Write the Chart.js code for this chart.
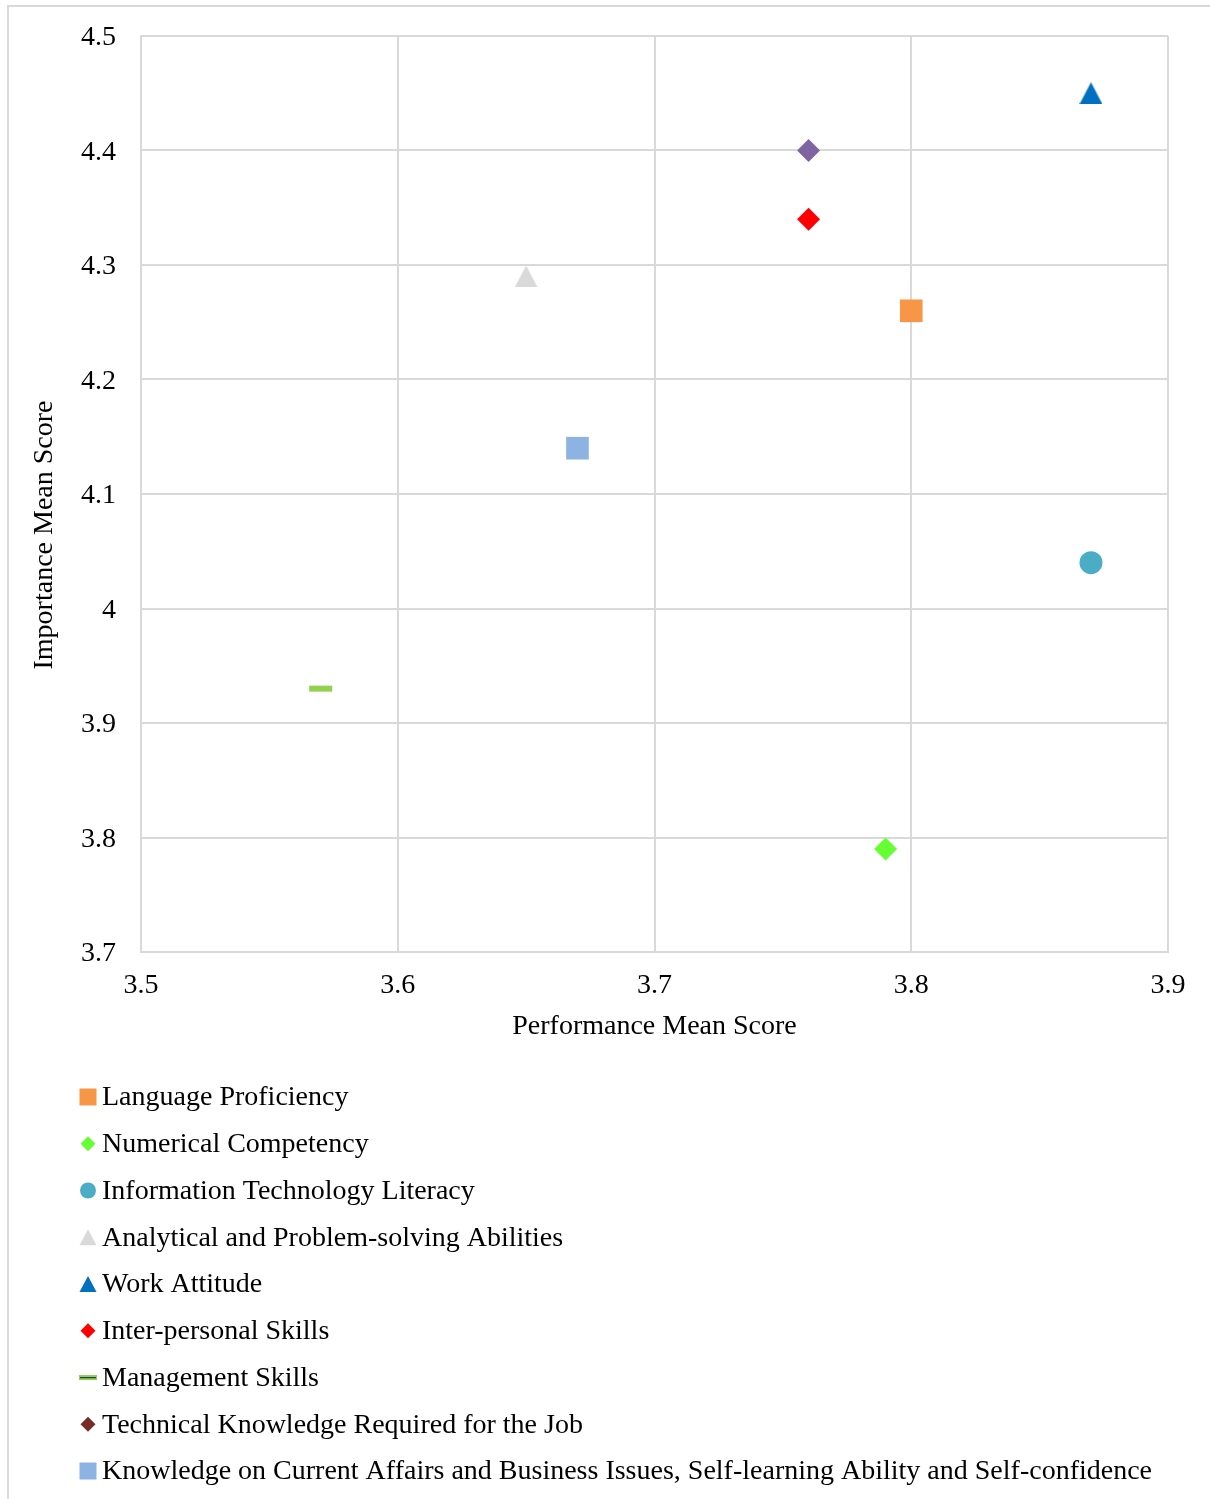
<!DOCTYPE html>
<html>
<head>
<meta charset="utf-8">
<script src="https://cdn.jsdelivr.net/npm/chart.js@4/dist/chart.umd.min.js"></script>
<style>
  html, body { margin: 0; padding: 0; background: #ffffff; }
  #chart { display: block; }
</style>
</head>
<body>
<canvas id="chart" width="1210" height="1499"></canvas>
<script>
// ── Data ─────────────────────────────────────────
const skills = [
    'Language Proficiency',
    'Numerical Competency',
    'Information Technology Literacy',
    'Analytical and Problem-solving Abilities',
    'Work Attitude',
    'Inter-personal Skills',
    'Management Skills',
    'Technical Knowledge Required for the Job',
    'Knowledge on Current Affairs and Business Issues, Self-learning Ability and Self-confidence'
];
const performanceScores = [3.80, 3.79, 3.87, 3.65, 3.87, 3.76, 3.57, 3.76, 3.67];
const importanceScores  = [4.26, 3.79, 4.04, 4.29, 4.45, 4.34, 3.93, 4.40, 4.14];

const xTicks = [3.5, 3.6, 3.7, 3.8, 3.9];
const yTicks = [3.7, 3.8, 3.9, 4.0, 4.1, 4.2, 4.3, 4.4, 4.5];

// marker shape and colour per skill (plot / legend)
const markerShapes = ['square', 'diamond', 'circle', 'triangle', 'triangle', 'diamond', 'dash', 'diamond', 'square'];
const markerColors = ['#F79646', '#66FF33', '#4BACC6', '#D9D9D9', '#0070C0', '#FF0000', '#92D050', '#8064A2', '#8DB3E2'];
const legendColors = ['#F79646', '#66FF33', '#4BACC6', '#D9D9D9', '#0070C0', '#FF0000', '#92D050', '#772C2A', '#8DB3E2'];

const FONT = "'Liberation Serif', 'Times New Roman', serif";
const GRID = '#D9D9D9';

// triangle sprite, centred on its bounding box
function triangleSprite(color, w, h) {
    const c = document.createElement('canvas');
    c.width = w; c.height = h;
    const g = c.getContext('2d');
    g.fillStyle = color;
    g.beginPath();
    g.moveTo(w / 2, 0);
    g.lineTo(w, h);
    g.lineTo(0, h);
    g.closePath();
    g.fill();
    return c;
}

function pointOptions(shape, color) {
    switch (shape) {
        case 'square':   return { pointStyle: 'rect', pointRadius: 16, pointBorderWidth: 0 };
        case 'diamond':  return { pointStyle: 'rectRot', pointRadius: 11.5, pointBorderWidth: 0 };
        case 'circle':   return { pointStyle: 'circle', pointRadius: 11.5, pointBorderWidth: 0 };
        case 'triangle': return { pointStyle: triangleSprite(color, 23, 22), pointRadius: 12, pointBorderWidth: 0 };
        case 'dash':     return { pointStyle: 'line', pointRadius: 11.5, pointBorderWidth: 6 };
    }
}

const datasets = skills.map((name, i) => Object.assign({
    label: name,
    data: [{ x: performanceScores[i], y: importanceScores[i] }],
    pointBackgroundColor: markerColors[i],
    pointBorderColor: markerColors[i]
}, pointOptions(markerShapes[i], markerColors[i])));

// ── Legend marker drawn on the canvas ─────────────
function drawLegendMarker(ctx, shape, color, x, y) {
    ctx.save();
    ctx.fillStyle = color;
    ctx.beginPath();
    if (shape === 'square') {
        ctx.rect(x - 8.5, y - 8.5, 17, 17);
        ctx.fill();
    } else if (shape === 'diamond') {
        ctx.moveTo(x, y - 7.5); ctx.lineTo(x + 7.5, y); ctx.lineTo(x, y + 7.5); ctx.lineTo(x - 7.5, y);
        ctx.closePath();
        ctx.fill();
    } else if (shape === 'circle') {
        ctx.arc(x, y, 8, 0, Math.PI * 2);
        ctx.fill();
    } else if (shape === 'triangle') {
        ctx.moveTo(x, y - 8); ctx.lineTo(x + 8.5, y + 8); ctx.lineTo(x - 8.5, y + 8);
        ctx.closePath();
        ctx.fill();
    } else if (shape === 'dash') {
        ctx.rect(x - 9, y - 2.5, 18, 5);
        ctx.fill();
        ctx.fillStyle = '#1F3864';
        ctx.fillRect(x - 8, y - 0.5, 16, 1.2);
    }
    ctx.restore();
}

const decorations = {
    id: 'decorations',
    beforeDraw(chart) {
        const ctx = chart.ctx;
        ctx.save();
        ctx.fillStyle = '#FFFFFF';
        ctx.fillRect(0, 0, chart.width, chart.height);
        ctx.strokeStyle = GRID;
        ctx.lineWidth = 2;
        ctx.strokeRect(8, 6, chart.width + 20, chart.height + 20);
        ctx.restore();
    },
    afterDraw(chart) {
        const ctx = chart.ctx;
        ctx.save();
        // y axis title
        ctx.fillStyle = '#000000';
        ctx.font = '28px ' + FONT;
        ctx.textAlign = 'center';
        ctx.textBaseline = 'middle';
        ctx.translate(45, 535);
        ctx.rotate(-Math.PI / 2);
        ctx.fillText('Importance Mean Score', 0, 0);
        ctx.restore();

        // legend, one skill per row
        ctx.save();
        ctx.font = '28px ' + FONT;
        ctx.fillStyle = '#000000';
        ctx.textAlign = 'left';
        ctx.textBaseline = 'middle';
        skills.forEach((name, i) => {
            const y = 1097 + i * 46.75;
            drawLegendMarker(ctx, markerShapes[i], legendColors[i], 88, y);
            ctx.fillStyle = '#000000';
            ctx.fillText(name, 102, y + 1);
        });
        ctx.restore();
    }
};

const ctx = document.getElementById('chart').getContext('2d');

new Chart(ctx, {
    type: 'scatter',
    data: { datasets },
    plugins: [decorations],
    options: {
        responsive: false,
        devicePixelRatio: 1,
        animation: false,
        events: [],
        layout: { padding: { top: 36, right: 42, bottom: 452, left: 0 } },
        plugins: {
            legend: { display: false },
            tooltip: { enabled: false }
        },
        scales: {
            x: {
                type: 'linear',
                min: 3.5,
                max: 3.9,
                afterBuildTicks: (s) => { s.ticks = xTicks.map(v => ({ value: v })); },
                afterFit: (s) => { s.height = 95; },
                grid: { color: GRID, lineWidth: 2, drawTicks: false },
                border: { color: GRID, width: 2 },
                ticks: {
                    color: '#000000',
                    padding: 17,
                    font: { family: FONT, size: 28 },
                    callback: (v) => String(Math.round(v * 10) / 10)
                },
                title: {
                    display: true,
                    text: 'Performance Mean Score',
                    color: '#000000',
                    padding: { top: 4, bottom: 4 },
                    font: { family: FONT, size: 28 }
                }
            },
            y: {
                type: 'linear',
                min: 3.7,
                max: 4.5,
                afterBuildTicks: (s) => { s.ticks = yTicks.map(v => ({ value: v })); },
                afterFit: (s) => {
                    s.width = 141;
                    // tick labels fit inside the layout padding
                    s.paddingTop = 0;
                    s.paddingBottom = 0;
                },
                grid: { color: GRID, lineWidth: 2, drawTicks: false },
                border: { color: GRID, width: 2 },
                ticks: {
                    color: '#000000',
                    padding: 25,
                    labelOffset: 2,
                    font: { family: FONT, size: 28 },
                    callback: (v) => String(Math.round(v * 10) / 10)
                }
            }
        }
    }
});
</script>
</body>
</html>
